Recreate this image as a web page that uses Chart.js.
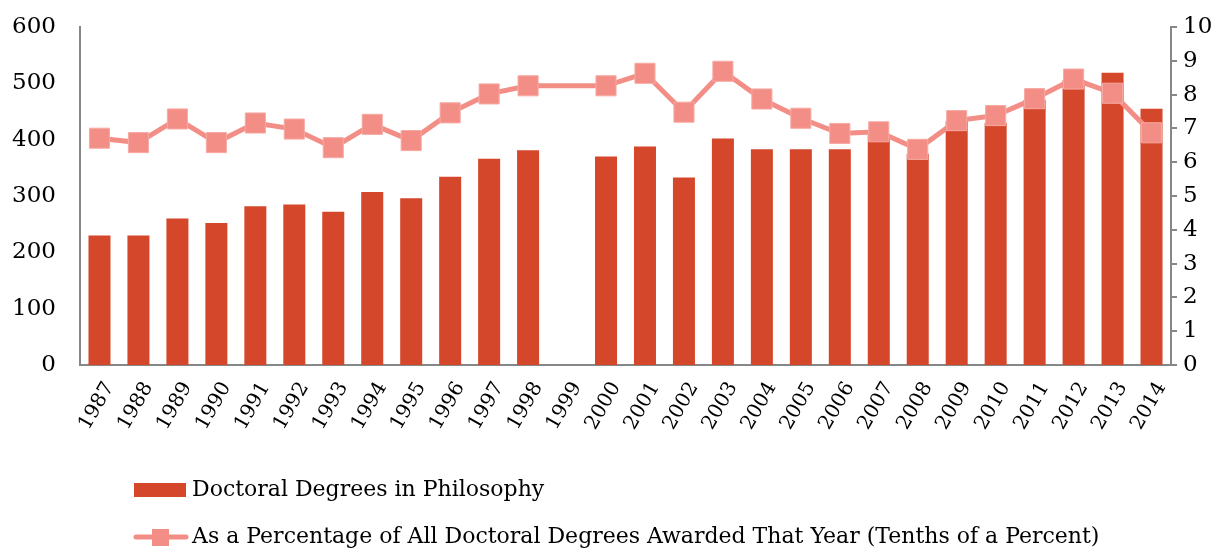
<!DOCTYPE html>
<html>
<head>
<meta charset="utf-8">
<style>
  body { margin: 0; background: #fff; }
  #wrap { width: 1226px; height: 552px; }
</style>
</head>
<body>
<div id="wrap"><canvas id="phdChart" width="1226" height="552"></canvas></div>

<script src="https://cdn.jsdelivr.net/npm/chart.js"></script>

<script>
    // years on the x axis (1999 has no data)
    const years = ['1987', '1988', '1989', '1990', '1991', '1992', '1993', '1994', '1995', '1996',
                   '1997', '1998', '1999', '2000', '2001', '2002', '2003', '2004', '2005', '2006',
                   '2007', '2008', '2009', '2010', '2011', '2012', '2013', '2014'];

    // number of doctoral degrees in philosophy (left axis)
    const degrees = [230, 230, 260, 252, 282, 285, 272, 307, 296, 334,
                     366, 381, null, 370, 388, 333, 402, 383, 383, 383,
                     409, 375, 433, 430, 471, 506, 519, 455];

    // share of all doctorates, in tenths of a percent (right axis)
    const share = [6.71, 6.58, 7.28, 6.58, 7.16, 6.98, 6.43, 7.12, 6.64, 7.46,
                   8.02, 8.26, null, 8.26, 8.63, 7.48, 8.69, 7.87, 7.30, 6.85,
                   6.90, 6.38, 7.23, 7.38, 7.88, 8.46, 8.04, 6.87];

    const barLabel = 'Doctoral Degrees in Philosophy';
    const lineLabel = 'As a Percentage of All Doctoral Degrees Awarded That Year (Tenths of a Percent)';

    const barColor = '#d5472b';
    const lineColor = '#f38e86';
    const axisColor = '#878787';
    const fontFamily = '"DejaVu Serif", "Liberation Serif", serif';

    // legend drawn by hand so each entry gets its own row, like the original
    const rowLegend = {
        id: 'rowLegend',
        afterDraw(chart) {
            const c = chart.ctx;
            c.save();
            c.font = '22px ' + fontFamily;
            c.textBaseline = 'middle';

            // bar entry
            c.fillStyle = barColor;
            c.fillRect(134, 483, 52, 14);
            c.fillStyle = '#000';
            c.fillText(barLabel, 192, 490);

            // line entry
            c.strokeStyle = lineColor;
            c.lineWidth = 5;
            c.lineCap = 'round';
            c.beginPath();
            c.moveTo(136, 537);
            c.lineTo(186, 537);
            c.stroke();
            c.fillStyle = lineColor;
            c.fillRect(152, 529, 17, 17);
            c.fillStyle = '#000';
            c.fillText(lineLabel, 192, 537);
            c.restore();
        }
    };

    // y axes: fixed width and no extra top/bottom padding, so the plot sits where it does in the original
    function fitY(width) {
        return function (scale) {
            scale.width = width;
            scale.paddingTop = 0;
            scale.paddingBottom = 0;
        };
    }

    const ctx = document.getElementById('phdChart').getContext('2d');
    const phdChart = new Chart(ctx, {
        data: {
            labels: years,
            datasets: [{
                type: 'line',
                label: lineLabel,
                data: share,
                yAxisID: 'y1',
                order: 1,
                borderColor: lineColor,
                borderWidth: 5,
                spanGaps: true,
                tension: 0,
                pointStyle: 'rect',
                pointRadius: 14.2,
                pointBackgroundColor: lineColor,
                pointBorderColor: '#f7aaa3',
                pointBorderWidth: 1
            }, {
                type: 'bar',
                label: barLabel,
                data: degrees,
                yAxisID: 'y',
                order: 2,
                backgroundColor: barColor,
                categoryPercentage: 1,
                barPercentage: 0.565
            }]
        },
        plugins: [rowLegend],
        options: {
            responsive: false,
            animation: false,
            layout: { padding: { top: 27, bottom: 100, left: 0, right: 0 } },
            plugins: {
                legend: { display: false },
                tooltip: { enabled: false }
            },
            scales: {
                x: {
                    grid: { display: false },
                    border: { display: true, color: axisColor, width: 2 },
                    ticks: {
                        color: '#000',
                        font: { family: fontFamily, size: 20 },
                        maxRotation: 60,
                        minRotation: 60,
                        autoSkip: false,
                        padding: 5,
                        labelOffset: 10
                    },
                    afterFit(scale) { scale.height = 87; }
                },
                y: {
                    position: 'left',
                    min: 0,
                    max: 600,
                    grid: { display: false, drawTicks: false },
                    border: { display: true, color: axisColor, width: 2 },
                    ticks: {
                        stepSize: 100,
                        color: '#000',
                        padding: 24,
                        font: { family: fontFamily, size: 23 }
                    },
                    afterFit: fitY(80)
                },
                y1: {
                    position: 'right',
                    min: 0,
                    max: 10,
                    grid: { display: true, drawOnChartArea: false, color: axisColor, lineWidth: 2, tickLength: 6 },
                    border: { display: true, color: axisColor, width: 2 },
                    ticks: {
                        stepSize: 1,
                        color: '#000',
                        padding: 6,
                        font: { family: fontFamily, size: 23 }
                    },
                    afterFit: fitY(55)
                }
            }
        }
    });
</script>
</body>
</html>
